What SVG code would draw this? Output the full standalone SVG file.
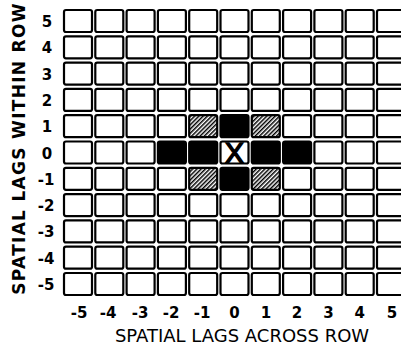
<svg xmlns="http://www.w3.org/2000/svg" width="401" height="347" viewBox="0 0 401 347">
<style>
.c{fill:#fff;stroke:#000;stroke-width:2.2;}
.b{fill:#000;stroke:#000;stroke-width:2.2;}
.h{fill:url(#hatch);stroke:#000;stroke-width:2.2;}
.n{font-family:"DejaVu Sans","Liberation Sans",sans-serif;font-weight:bold;font-size:15px;text-anchor:middle;fill:#000;}
.t{font-family:"DejaVu Sans","Liberation Sans",sans-serif;font-size:18px;text-anchor:middle;fill:#000;}
.yt{font-family:"DejaVu Sans","Liberation Sans",sans-serif;font-weight:bold;font-size:17px;letter-spacing:1.3px;text-anchor:middle;fill:#000;}
</style>
<defs>
<pattern id="hatch" width="3" height="3" patternUnits="userSpaceOnUse" patternTransform="rotate(45)">
<rect width="3" height="3" fill="#fff"/>
<rect x="0" y="0" width="1.5" height="3" fill="#000"/>
</pattern>
</defs>
<rect width="401" height="347" fill="#fff"/>
<g id="grid">
<g id="row5"><rect class="c" x="64" y="10" width="28" height="22" rx="2"/><rect class="c" x="95.3" y="10" width="28" height="22" rx="2"/><rect class="c" x="126.6" y="10" width="28" height="22" rx="2"/><rect class="c" x="157.9" y="10" width="28" height="22" rx="2"/><rect class="c" x="189.2" y="10" width="28" height="22" rx="2"/><rect class="c" x="220.5" y="10" width="28" height="22" rx="2"/><rect class="c" x="251.8" y="10" width="28" height="22" rx="2"/><rect class="c" x="283.1" y="10" width="28" height="22" rx="2"/><rect class="c" x="314.4" y="10" width="28" height="22" rx="2"/><rect class="c" x="345.7" y="10" width="28" height="22" rx="2"/><rect class="c" x="377" y="10" width="28" height="22" rx="2"/></g>
<g id="row4"><rect class="c" x="64" y="36.3" width="28" height="22" rx="2"/><rect class="c" x="95.3" y="36.3" width="28" height="22" rx="2"/><rect class="c" x="126.6" y="36.3" width="28" height="22" rx="2"/><rect class="c" x="157.9" y="36.3" width="28" height="22" rx="2"/><rect class="c" x="189.2" y="36.3" width="28" height="22" rx="2"/><rect class="c" x="220.5" y="36.3" width="28" height="22" rx="2"/><rect class="c" x="251.8" y="36.3" width="28" height="22" rx="2"/><rect class="c" x="283.1" y="36.3" width="28" height="22" rx="2"/><rect class="c" x="314.4" y="36.3" width="28" height="22" rx="2"/><rect class="c" x="345.7" y="36.3" width="28" height="22" rx="2"/><rect class="c" x="377" y="36.3" width="28" height="22" rx="2"/></g>
<g id="row3"><rect class="c" x="64" y="62.6" width="28" height="22" rx="2"/><rect class="c" x="95.3" y="62.6" width="28" height="22" rx="2"/><rect class="c" x="126.6" y="62.6" width="28" height="22" rx="2"/><rect class="c" x="157.9" y="62.6" width="28" height="22" rx="2"/><rect class="c" x="189.2" y="62.6" width="28" height="22" rx="2"/><rect class="c" x="220.5" y="62.6" width="28" height="22" rx="2"/><rect class="c" x="251.8" y="62.6" width="28" height="22" rx="2"/><rect class="c" x="283.1" y="62.6" width="28" height="22" rx="2"/><rect class="c" x="314.4" y="62.6" width="28" height="22" rx="2"/><rect class="c" x="345.7" y="62.6" width="28" height="22" rx="2"/><rect class="c" x="377" y="62.6" width="28" height="22" rx="2"/></g>
<g id="row2"><rect class="c" x="64" y="88.9" width="28" height="22" rx="2"/><rect class="c" x="95.3" y="88.9" width="28" height="22" rx="2"/><rect class="c" x="126.6" y="88.9" width="28" height="22" rx="2"/><rect class="c" x="157.9" y="88.9" width="28" height="22" rx="2"/><rect class="c" x="189.2" y="88.9" width="28" height="22" rx="2"/><rect class="c" x="220.5" y="88.9" width="28" height="22" rx="2"/><rect class="c" x="251.8" y="88.9" width="28" height="22" rx="2"/><rect class="c" x="283.1" y="88.9" width="28" height="22" rx="2"/><rect class="c" x="314.4" y="88.9" width="28" height="22" rx="2"/><rect class="c" x="345.7" y="88.9" width="28" height="22" rx="2"/><rect class="c" x="377" y="88.9" width="28" height="22" rx="2"/></g>
<g id="row1"><rect class="c" x="64" y="115.2" width="28" height="22" rx="2"/><rect class="c" x="95.3" y="115.2" width="28" height="22" rx="2"/><rect class="c" x="126.6" y="115.2" width="28" height="22" rx="2"/><rect class="c" x="157.9" y="115.2" width="28" height="22" rx="2"/><rect class="h" x="189.2" y="115.2" width="28" height="22" rx="2"/><rect class="b" x="220.5" y="115.2" width="28" height="22" rx="2"/><rect class="h" x="251.8" y="115.2" width="28" height="22" rx="2"/><rect class="c" x="283.1" y="115.2" width="28" height="22" rx="2"/><rect class="c" x="314.4" y="115.2" width="28" height="22" rx="2"/><rect class="c" x="345.7" y="115.2" width="28" height="22" rx="2"/><rect class="c" x="377" y="115.2" width="28" height="22" rx="2"/></g>
<g id="row0"><rect class="c" x="64" y="141.5" width="28" height="22" rx="2"/><rect class="c" x="95.3" y="141.5" width="28" height="22" rx="2"/><rect class="c" x="126.6" y="141.5" width="28" height="22" rx="2"/><rect class="b" x="157.9" y="141.5" width="28" height="22" rx="2"/><rect class="b" x="189.2" y="141.5" width="28" height="22" rx="2"/><rect class="c" x="220.5" y="141.5" width="28" height="22" rx="2"/><rect class="b" x="251.8" y="141.5" width="28" height="22" rx="2"/><rect class="b" x="283.1" y="141.5" width="28" height="22" rx="2"/><rect class="c" x="314.4" y="141.5" width="28" height="22" rx="2"/><rect class="c" x="345.7" y="141.5" width="28" height="22" rx="2"/><rect class="c" x="377" y="141.5" width="28" height="22" rx="2"/></g>
<g id="rowm1"><rect class="c" x="64" y="167.8" width="28" height="22" rx="2"/><rect class="c" x="95.3" y="167.8" width="28" height="22" rx="2"/><rect class="c" x="126.6" y="167.8" width="28" height="22" rx="2"/><rect class="c" x="157.9" y="167.8" width="28" height="22" rx="2"/><rect class="h" x="189.2" y="167.8" width="28" height="22" rx="2"/><rect class="b" x="220.5" y="167.8" width="28" height="22" rx="2"/><rect class="h" x="251.8" y="167.8" width="28" height="22" rx="2"/><rect class="c" x="283.1" y="167.8" width="28" height="22" rx="2"/><rect class="c" x="314.4" y="167.8" width="28" height="22" rx="2"/><rect class="c" x="345.7" y="167.8" width="28" height="22" rx="2"/><rect class="c" x="377" y="167.8" width="28" height="22" rx="2"/></g>
<g id="rowm2"><rect class="c" x="64" y="194.1" width="28" height="22" rx="2"/><rect class="c" x="95.3" y="194.1" width="28" height="22" rx="2"/><rect class="c" x="126.6" y="194.1" width="28" height="22" rx="2"/><rect class="c" x="157.9" y="194.1" width="28" height="22" rx="2"/><rect class="c" x="189.2" y="194.1" width="28" height="22" rx="2"/><rect class="c" x="220.5" y="194.1" width="28" height="22" rx="2"/><rect class="c" x="251.8" y="194.1" width="28" height="22" rx="2"/><rect class="c" x="283.1" y="194.1" width="28" height="22" rx="2"/><rect class="c" x="314.4" y="194.1" width="28" height="22" rx="2"/><rect class="c" x="345.7" y="194.1" width="28" height="22" rx="2"/><rect class="c" x="377" y="194.1" width="28" height="22" rx="2"/></g>
<g id="rowm3"><rect class="c" x="64" y="220.4" width="28" height="22" rx="2"/><rect class="c" x="95.3" y="220.4" width="28" height="22" rx="2"/><rect class="c" x="126.6" y="220.4" width="28" height="22" rx="2"/><rect class="c" x="157.9" y="220.4" width="28" height="22" rx="2"/><rect class="c" x="189.2" y="220.4" width="28" height="22" rx="2"/><rect class="c" x="220.5" y="220.4" width="28" height="22" rx="2"/><rect class="c" x="251.8" y="220.4" width="28" height="22" rx="2"/><rect class="c" x="283.1" y="220.4" width="28" height="22" rx="2"/><rect class="c" x="314.4" y="220.4" width="28" height="22" rx="2"/><rect class="c" x="345.7" y="220.4" width="28" height="22" rx="2"/><rect class="c" x="377" y="220.4" width="28" height="22" rx="2"/></g>
<g id="rowm4"><rect class="c" x="64" y="246.7" width="28" height="22" rx="2"/><rect class="c" x="95.3" y="246.7" width="28" height="22" rx="2"/><rect class="c" x="126.6" y="246.7" width="28" height="22" rx="2"/><rect class="c" x="157.9" y="246.7" width="28" height="22" rx="2"/><rect class="c" x="189.2" y="246.7" width="28" height="22" rx="2"/><rect class="c" x="220.5" y="246.7" width="28" height="22" rx="2"/><rect class="c" x="251.8" y="246.7" width="28" height="22" rx="2"/><rect class="c" x="283.1" y="246.7" width="28" height="22" rx="2"/><rect class="c" x="314.4" y="246.7" width="28" height="22" rx="2"/><rect class="c" x="345.7" y="246.7" width="28" height="22" rx="2"/><rect class="c" x="377" y="246.7" width="28" height="22" rx="2"/></g>
<g id="rowm5"><rect class="c" x="64" y="273" width="28" height="22" rx="2"/><rect class="c" x="95.3" y="273" width="28" height="22" rx="2"/><rect class="c" x="126.6" y="273" width="28" height="22" rx="2"/><rect class="c" x="157.9" y="273" width="28" height="22" rx="2"/><rect class="c" x="189.2" y="273" width="28" height="22" rx="2"/><rect class="c" x="220.5" y="273" width="28" height="22" rx="2"/><rect class="c" x="251.8" y="273" width="28" height="22" rx="2"/><rect class="c" x="283.1" y="273" width="28" height="22" rx="2"/><rect class="c" x="314.4" y="273" width="28" height="22" rx="2"/><rect class="c" x="345.7" y="273" width="28" height="22" rx="2"/><rect class="c" x="377" y="273" width="28" height="22" rx="2"/></g>
</g>
<g id="center-x"><text x="234.5" y="163" font-family="Liberation Sans, Arial, sans-serif" font-size="29" text-anchor="middle" stroke="#000" stroke-width="1.4">X</text></g>
<g id="y-ticks">
<text class="n" x="47" y="27">5</text>
<text class="n" x="47" y="53.3">4</text>
<text class="n" x="47" y="79.6">3</text>
<text class="n" x="47" y="105.9">2</text>
<text class="n" x="47" y="132.2">1</text>
<text class="n" x="47" y="158.5">0</text>
<text class="n" x="46" y="184.8">-1</text>
<text class="n" x="46" y="211.1">-2</text>
<text class="n" x="46" y="237.4">-3</text>
<text class="n" x="46" y="263.7">-4</text>
<text class="n" x="46" y="290">-5</text>
</g>
<g id="x-ticks">
<text class="n" x="79" y="318">-5</text>
<text class="n" x="108" y="318">-4</text>
<text class="n" x="140" y="318">-3</text>
<text class="n" x="171" y="318">-2</text>
<text class="n" x="202" y="318">-1</text>
<text class="n" x="234.5" y="318">0</text>
<text class="n" x="266" y="318">1</text>
<text class="n" x="297" y="318">2</text>
<text class="n" x="328.4" y="318">3</text>
<text class="n" x="359.7" y="318">4</text>
<text class="n" x="392" y="318">5</text>
</g>
<g id="x-title"><text class="t" x="242" y="342">SPATIAL LAGS ACROSS ROW</text></g>
<g id="y-title"><text class="yt" transform="translate(25,148.5) rotate(-90)">SPATIAL LAGS WITHIN ROW</text></g>
</svg>
